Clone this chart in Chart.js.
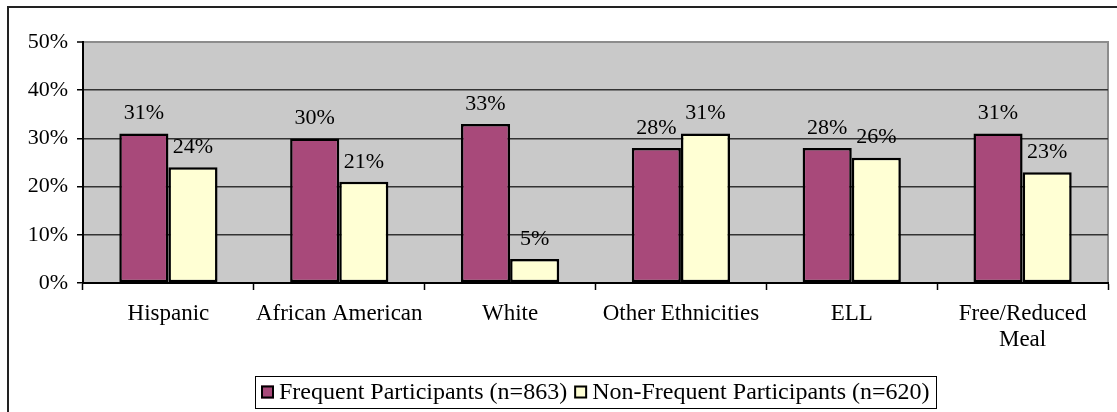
<!DOCTYPE html>
<html>
<head>
<meta charset="utf-8">
<title>Participation by group</title>
<script src="https://cdn.jsdelivr.net/npm/chart.js@4.4.1/dist/chart.umd.min.js"></script>
<style>
  html, body { margin: 0; padding: 0; background: #fff; }
  #wrap { width: 1117px; height: 412px; }
</style>
</head>
<body>
<div id="wrap"><canvas id="groupChart" width="1117" height="412"></canvas></div>
<script>
const categories = ['Hispanic', 'African American', 'White', 'Other Ethnicities', 'ELL', ['Free/Reduced', 'Meal']];
const frequent = [31, 30, 33, 28, 28, 31];
const nonFrequent = [24, 21, 5, 31, 26, 23];
const seriesNames = ['Frequent Participants (n=863)', 'Non-Frequent Participants (n=620)'];
const yTicks = [0, 10, 20, 30, 40, 50];

const SERIF = '"Liberation Serif", "Times New Roman", serif';

Chart.defaults.font.family = SERIF;
Chart.defaults.font.size = 22;
Chart.defaults.color = '#000';

// gray plot background, outer frame
const backdrop = {
    id: 'backdrop',
    beforeDraw(chart) {
        const c = chart.ctx;
        const a = chart.chartArea;
        c.save();
        c.fillStyle = '#fff';
        c.fillRect(0, 0, chart.width, chart.height);
        c.fillStyle = '#C9C9C9';
        c.fillRect(a.left, a.top, a.right - a.left, a.bottom - a.top);
        c.strokeStyle = '#8c8c8c';
        c.lineWidth = 2;
        c.beginPath();
        c.moveTo(a.left, a.top);
        c.lineTo(a.right, a.top);
        c.lineTo(a.right, a.bottom);
        c.stroke();
        c.strokeStyle = '#222';
        c.lineWidth = 2;
        c.beginPath();
        c.moveTo(8, chart.height + 2);
        c.lineTo(8, 7);
        c.lineTo(chart.width + 2, 7);
        c.stroke();
        c.restore();
    }
};

// percentage labels above every bar
const barLabels = {
    id: 'barLabels',
    afterDatasetsDraw(chart) {
        const c = chart.ctx;
        c.save();
        c.font = '22px ' + SERIF;
        c.fillStyle = '#000';
        c.textAlign = 'center';
        c.textBaseline = 'middle';
        chart.data.datasets.forEach((ds, i) => {
            chart.getDatasetMeta(i).data.forEach((bar, j) => {
                c.fillText(ds.data[j] + '%', bar.x, bar.y - 20);
            });
        });
        c.restore();
    }
};

// boxed legend under the axis
const boxLegend = {
    id: 'boxLegend',
    afterDraw(chart) {
        const c = chart.ctx;
        const sq = 13, gapAfterSq = 5, gapItems = 7, pad = 6;
        const cy = 392;
        c.save();
        c.font = '24px ' + SERIF;
        c.textBaseline = 'middle';
        const items = chart.data.datasets.map(ds => ({
            text: ds.label, color: ds.backgroundColor, w: c.measureText(ds.label).width
        }));
        let total = pad * 2;
        items.forEach((it, i) => { total += sq + gapAfterSq + it.w + (i ? gapItems : 0); });
        const a = chart.chartArea;
        const left = Math.round((a.left + a.right) / 2 - total / 2);
        c.strokeStyle = '#000';
        c.lineWidth = 1;
        c.strokeRect(left + 0.5, 376.5, Math.round(total), 32);
        let x = left + pad;
        items.forEach((it, i) => {
            if (i) x += gapItems;
            c.fillStyle = it.color;
            c.fillRect(x, cy - sq / 2, sq, sq);
            c.lineWidth = 2;
            c.strokeRect(x + 1, cy - sq / 2 + 1, sq - 2, sq - 2);
            x += sq + gapAfterSq;
            c.fillStyle = '#000';
            c.fillText(it.text, x, cy + 1);
            x += it.w;
        });
        c.restore();
    }
};

const ctx = document.getElementById('groupChart');

const chartData = {
    labels: categories,
    datasets: [{
        label: seriesNames[0],
        data: frequent,
        backgroundColor: '#A8497A',
        borderColor: '#000',
        borderWidth: 2.5,
        borderSkipped: false
    }, {
        label: seriesNames[1],
        data: nonFrequent,
        backgroundColor: '#FFFFD4',
        borderColor: '#000',
        borderWidth: 2.5,
        borderSkipped: false
    }]
};

const chartOptions = {
    responsive: false,
    animation: false,
    devicePixelRatio: 1,
    layout: {
        padding: { left: 0, top: 42, right: 9, bottom: 29 }
    },
    datasets: {
        bar: { categoryPercentage: 0.575, barPercentage: 1 }
    },
    scales: {
        x: {
            afterFit(scale) { scale.height = 100; },
            grid: {
                offset: true,
                drawOnChartArea: false,
                tickLength: 7,
                tickColor: '#000',
                tickWidth: 1.5
            },
            border: { color: '#000', width: 2 },
            ticks: {
                padding: 11,
                maxRotation: 0,
                minRotation: 0,
                autoSkip: false,
                font: { size: 23, lineHeight: 1.13 }
            }
        },
        y: {
            min: 0,
            max: 50,
            afterFit(scale) { scale.width = 83; },
            afterBuildTicks(scale) { scale.ticks = yTicks.map(v => ({ value: v })); },
            grid: {
                color: c => (c.tick && c.tick.value === 50) ? '#8c8c8c' : '#333',
                lineWidth: c => (c.tick && c.tick.value === 50) ? 2 : 1.5,
                tickLength: 6,
                tickColor: '#000',
                tickWidth: 1.5
            },
            border: { color: '#000', width: 2 },
            ticks: { padding: 9, callback: v => v + '%' }
        }
    },
    plugins: {
        legend: { display: false },
        tooltip: { enabled: false }
    }
};

const groupChart = new Chart(ctx, {
    type: 'bar',
    data: chartData,
    options: chartOptions,
    plugins: [backdrop, barLabels, boxLegend]
});
</script>
</body>
</html>
